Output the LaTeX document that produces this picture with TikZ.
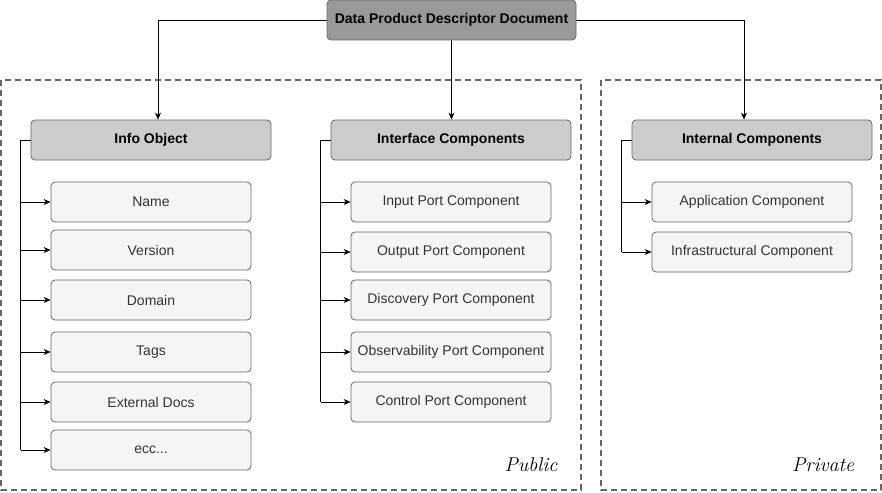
\documentclass[tikz,border=0pt]{standalone}
\usepackage{fontspec}
\setmainfont{Liberation Sans}
\usetikzlibrary{arrows.meta}
\definecolor{topfill}{HTML}{999999}
\definecolor{midfill}{HTML}{CCCCCC}
\definecolor{leaffill}{HTML}{F5F5F5}
\definecolor{edgegray}{HTML}{666666}
\definecolor{leaftext}{HTML}{333333}
\begin{document}
\begin{tikzpicture}[x=1pt,y=-1pt,
  topbox/.style={draw=edgegray, fill=topfill, rounded corners=4pt, minimum width=249pt, minimum height=40pt, inner sep=0pt, font=\fontsize{14}{16}\selectfont\bfseries, text=black, line width=0.8pt},
  groupbox/.style={draw=edgegray, fill=midfill, rounded corners=4pt, minimum width=240pt, minimum height=40pt, inner sep=0pt, font=\fontsize{14}{16}\selectfont\bfseries, text=black, line width=0.8pt},
  leafbox/.style={draw=edgegray, fill=leaffill, rounded corners=4pt, minimum width=200pt, minimum height=40pt, inner sep=0pt, font=\fontsize{14}{16}\selectfont, text=leaftext, line width=0.8pt},
  zone/.style={draw=edgegray, line width=1.6pt, dash pattern=on 6pt off 4pt},
  conn/.style={draw=black, line width=0.8pt, -{Stealth[length=7pt,width=6pt]}},
  tag/.style={font=\fontsize{20}{22}\selectfont, text=black}
]
\useasboundingbox (0,0) rectangle (882,492);
% zones
\draw[zone] (1,80) rectangle (581,490);
\draw[zone] (601,80) rectangle (881,490);
\node[tag] (pub) at (531,465) {\fontspec{Latin Modern Roman}\itshape Public};
\node[tag] (priv) at (823,465) {\fontspec{Latin Modern Roman}\itshape Private};
% top
\node[topbox] (top) at (451.5,20) {Data Product Descriptor Document};
% groups
\node[groupbox] (info) at (151,140) {Info Object};
\node[groupbox] (iface) at (451,140) {Interface Components};
\node[groupbox] (intern) at (752,140) {Internal Components};
% info leaves
\node[leafbox] (name) at (151,202) {Name};
\node[leafbox] (version) at (151,250) {Version};
\node[leafbox] (domain) at (151,300) {Domain};
\node[leafbox] (tags) at (151,352) {Tags};
\node[leafbox] (extdocs) at (151,402) {External Docs};
\node[leafbox] (ecc) at (151,450) {ecc...};
% interface leaves
\node[leafbox] (input) at (451,202) {Input Port Component};
\node[leafbox] (output) at (451,252) {Output Port Component};
\node[leafbox] (discovery) at (451,300) {Discovery Port Component};
\node[leafbox] (observ) at (451,352) {Observability Port Component};
\node[leafbox] (control) at (451,402) {Control Port Component};
% internal leaves
\node[leafbox] (app) at (752,202) {Application Component};
\node[leafbox] (infra) at (752,252) {Infrastructural Component};
% top connectors
\draw[conn] (top.west) -| ([xshift=7pt]info.north);
\draw[conn] (top.south) -- (iface.north -| top.south);
\draw[conn] (top.east) -| ([xshift=-8pt]intern.north);
% info tree
\coordinate (ib) at ([xshift=-10pt]info.west);
\draw[line width=0.8pt] (info.west) -- (ib) -- (ib |- ecc.west);
\foreach \n in {name,version,domain,tags,extdocs,ecc}
  \draw[conn] (ib |- \n.west) -- (\n.west);
% interface tree
\coordinate (fb) at ([xshift=-10pt]iface.west);
\draw[line width=0.8pt] (iface.west) -- (fb) -- (fb |- control.west);
\foreach \n in {input,output,discovery,observ,control}
  \draw[conn] (fb |- \n.west) -- (\n.west);
% internal tree
\coordinate (nb) at ([xshift=-10pt]intern.west);
\draw[line width=0.8pt] (intern.west) -- (nb) -- (nb |- infra.west);
\foreach \n in {app,infra}
  \draw[conn] (nb |- \n.west) -- (\n.west);
\end{tikzpicture}
\end{document}
